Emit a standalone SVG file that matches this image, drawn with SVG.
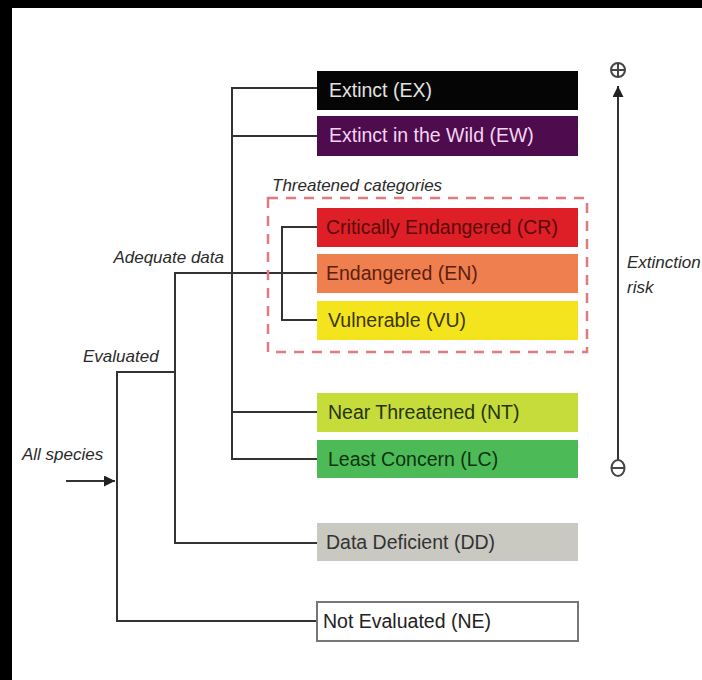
<svg xmlns="http://www.w3.org/2000/svg" width="702" height="680" viewBox="0 0 702 680">
<defs>
<style>
.box text{font-family:"Liberation Sans",Arial,sans-serif;font-size:19.5px}
.lbl{font-family:"Liberation Sans",Arial,sans-serif;font-size:17px;font-style:italic;fill:#2a2a2a}
.ln{stroke:#333;stroke-width:2;fill:none}
.sym{stroke:#444;stroke-width:2;fill:none}
</style>
<marker id="ah" viewBox="0 0 10 10" refX="10" refY="5" markerWidth="13" markerHeight="11" orient="auto" markerUnits="userSpaceOnUse">
<path d="M0,0 L10,5 L0,10 z" fill="#222"/>
</marker>
<marker id="ah2" viewBox="0 0 10 10" refX="10" refY="5" markerWidth="15" markerHeight="11" orient="auto" markerUnits="userSpaceOnUse">
<path d="M0,0 L10,5 L0,10 z" fill="#222"/>
</marker>
</defs>
<rect x="0" y="0" width="702" height="680" fill="#fff"/>
<rect x="0" y="0" width="702" height="8" fill="#000"/>
<rect x="0" y="0" width="12" height="680" fill="#000"/>

<g id="connectors">
<path class="ln" d="M317,88 H232 V459 H317"/>
<path class="ln" d="M232,136 H317"/>
<path class="ln" d="M232,412 H317"/>
<path class="ln" d="M317,273 H175 V543 H317"/>
<path class="ln" d="M317,227 H282 V320 H317"/>
<path class="ln" d="M175,372 H117 V621 H317"/>
<path class="ln" d="M66,481 H115" marker-end="url(#ah)"/>
<path class="ln" d="M618,460 V86" stroke="#555" marker-end="url(#ah2)"/>
</g>

<g id="threatened">
<rect x="268" y="198" width="319" height="154" fill="none" stroke="#e07a7e" stroke-width="2.5" stroke-dasharray="10,8"/>
<text class="lbl" x="272" y="191">Threatened categories</text>
</g>

<g id="EX" class="box"><rect x="317" y="71" width="261" height="39" fill="#050505"/><text x="329" y="97" fill="#e2e2e2">Extinct (EX)</text></g>
<g id="EW" class="box"><rect x="317" y="116" width="261" height="40" fill="#4e0b4e"/><text x="329" y="142" fill="#f2d6f0">Extinct in the Wild (EW)</text></g>
<g id="CR" class="box"><rect x="317" y="208" width="261" height="39" fill="#df1f27"/><text x="326" y="234" fill="#5a0b0b">Critically Endangered (CR)</text></g>
<g id="EN" class="box"><rect x="317" y="254" width="261" height="39" fill="#f07f4f"/><text x="326" y="280" fill="#5a2010">Endangered (EN)</text></g>
<g id="VU" class="box"><rect x="317" y="301" width="261" height="39" fill="#f4e41e"/><text x="328" y="327" fill="#3a3600">Vulnerable (VU)</text></g>
<g id="NT" class="box"><rect x="317" y="393" width="261" height="39" fill="#c6dc3b"/><text x="328" y="419" fill="#25340c">Near Threatened (NT)</text></g>
<g id="LC" class="box"><rect x="317" y="440" width="261" height="38" fill="#4cbb57"/><text x="328" y="466" fill="#0b330f">Least Concern (LC)</text></g>
<g id="DD" class="box"><rect x="317" y="523" width="261" height="38" fill="#c9c9c2"/><text x="326" y="549" fill="#333">Data Deficient (DD)</text></g>
<g id="NE" class="box"><rect x="317" y="602" width="261" height="39" fill="#fff" stroke="#777" stroke-width="2"/><text x="323" y="628" fill="#222">Not Evaluated (NE)</text></g>

<g id="labels">
<text class="lbl" x="224" y="263" text-anchor="end">Adequate data</text>
<text class="lbl" x="83" y="362">Evaluated</text>
<text class="lbl" x="22" y="460">All species</text>
<text class="lbl" x="627" y="268">Extinction</text>
<text class="lbl" x="627" y="293">risk</text>
</g>

<g id="plus">
<circle class="sym" cx="618" cy="70" r="7"/>
<path class="sym" d="M611,70 H625 M618,63 V77"/>
</g>
<g id="minus">
<ellipse class="sym" cx="618" cy="468" rx="6.5" ry="8"/>
<path class="sym" d="M611.5,468 H624.5"/>
</g>
</svg>
